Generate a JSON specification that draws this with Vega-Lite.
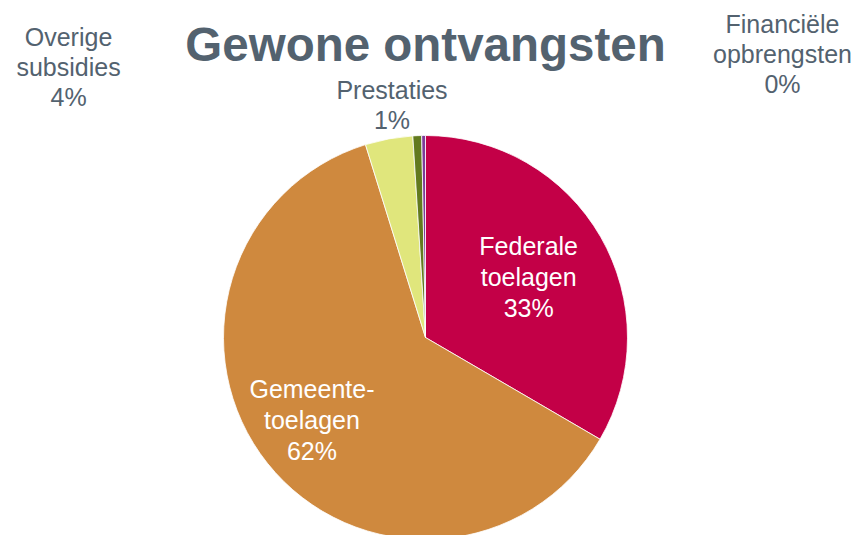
{
  "$schema": "https://vega.github.io/schema/vega-lite/v6.json",
  "width": 851,
  "height": 395,
  "autosize": "none",
  "padding": {"top": 140, "left": 0, "right": 10, "bottom": 0},
  "background": "white",
  "title": {
    "text": "Gewone ontvangsten",
    "fontSize": 47.5,
    "font": "Liberation Sans",
    "fontWeight": "bold",
    "color": "#53626F",
    "anchor": "middle",
    "frame": "group",
    "offset": -58
  },
  "data": {
    "values": [
      {"category": "Federale toelagen", "order": 1, "value": 33.4, "label": "Federale\ntoelagen\n33%"},
      {"category": "Gemeentetoelagen", "order": 2, "value": 61.8, "label": "Gemeente-\ntoelagen\n62%"},
      {"category": "Overige subsidies", "order": 3, "value": 3.8, "label": "Overige\nsubsidies\n4%"},
      {"category": "Prestaties", "order": 4, "value": 0.7, "label": "Prestaties\n1%"},
      {"category": "Financiële opbrengsten", "order": 5, "value": 0.3, "label": "Financiële\nopbrengsten\n0%"}
    ]
  },
  "encoding": {
    "theta": {"field": "value", "type": "quantitative", "stack": true},
    "order": {"field": "order", "type": "quantitative"}
  },
  "layer": [
    {
      "mark": {"type": "arc", "outerRadius": 202, "stroke": "white", "strokeWidth": 0.8},
      "encoding": {
        "color": {
          "field": "category",
          "type": "nominal",
          "scale": {
            "domain": ["Federale toelagen", "Gemeentetoelagen", "Overige subsidies", "Prestaties", "Financiële opbrengsten"],
            "range": ["#C30047", "#CF893E", "#E0E67C", "#627A1E", "#7D3C98"]
          },
          "legend": null
        }
      }
    },
    {
      "mark": {"type": "text", "radius": 119, "dy": -31, "font": "Liberation Sans", "fontSize": 25, "lineHeight": 31, "lineBreak": "\n", "color": "white", "align": "center", "baseline": "middle"},
      "encoding": {"text": {"condition": {"test": "datum.order == 1", "field": "label"}, "value": ""}}
    },
    {
      "mark": {"type": "text", "radius": 140, "dx": -4, "dy": -35, "font": "Liberation Sans", "fontSize": 25, "lineHeight": 31, "lineBreak": "\n", "color": "white", "align": "center", "baseline": "middle"},
      "encoding": {"text": {"condition": {"test": "datum.order == 2", "field": "label"}, "value": ""}}
    },
    {
      "mark": {"type": "text", "radius": 215, "dx": -318, "dy": -88, "font": "Liberation Sans", "fontSize": 25, "lineHeight": 30, "lineBreak": "\n", "color": "#53626F", "align": "center", "baseline": "middle"},
      "encoding": {"text": {"condition": {"test": "datum.order == 3", "field": "label"}, "value": ""}}
    },
    {
      "mark": {"type": "text", "radius": 232, "dx": -24, "dy": -15, "font": "Liberation Sans", "fontSize": 25, "lineHeight": 30, "lineBreak": "\n", "color": "#53626F", "align": "center", "baseline": "middle"},
      "encoding": {"text": {"condition": {"test": "datum.order == 4", "field": "label"}, "value": ""}}
    },
    {
      "mark": {"type": "text", "radius": 215, "dx": 359, "dy": -98, "font": "Liberation Sans", "fontSize": 25, "lineHeight": 30, "lineBreak": "\n", "color": "#53626F", "align": "center", "baseline": "middle"},
      "encoding": {"text": {"condition": {"test": "datum.order == 5", "field": "label"}, "value": ""}}
    }
  ],
  "config": {"view": {"stroke": null}}
}
